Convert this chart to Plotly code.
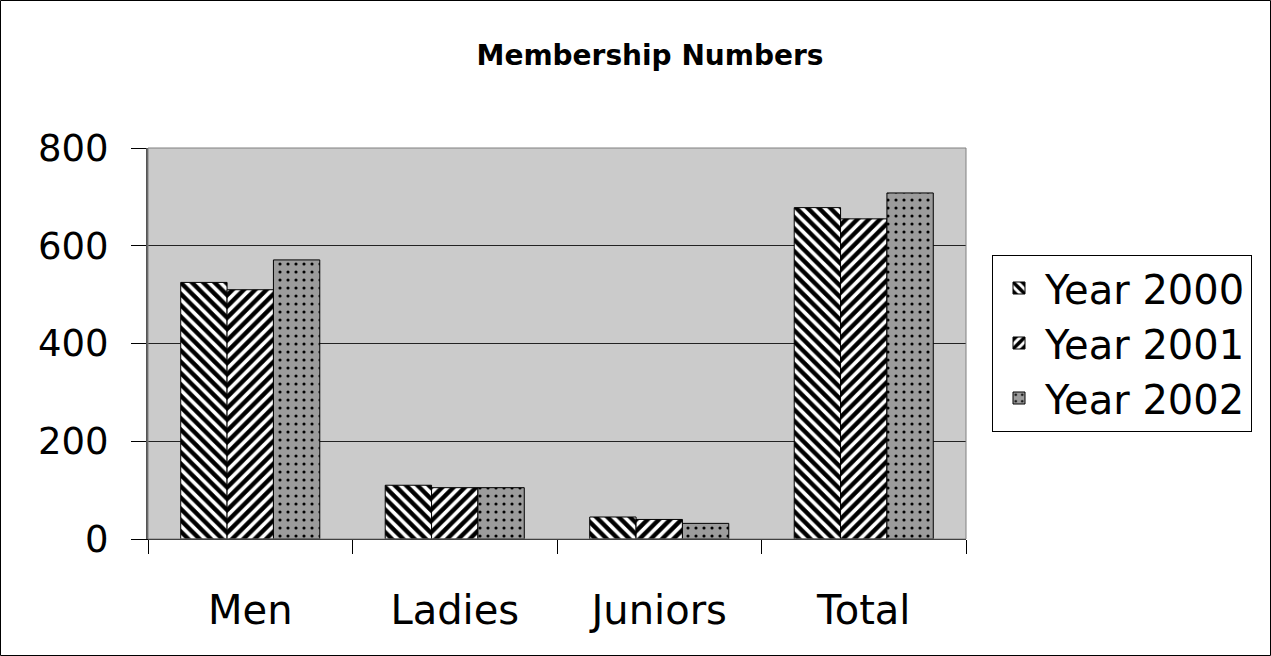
import plotly.graph_objects as go

categories = ["Men", "Ladies", "Juniors", "Total"]
series_names = ["Year 2000", "Year 2001", "Year 2002"]
year_2000 = [525, 110, 45, 678]
year_2001 = [510, 105, 40, 655]
year_2002 = [571, 105, 32, 708]
y_ticks = [0, 200, 400, 600, 800]

W, H = 1271, 656
ML, MR, MT, MB = 148, 305, 148, 117
pw, ph = W - ML - MR, H - MT - MB

patterns = [
    dict(shape="\\", fgcolor="black", bgcolor="white", size=8, solidity=0.55, fgopacity=1),
    dict(shape="/", fgcolor="black", bgcolor="white", size=8, solidity=0.55, fgopacity=1),
    dict(shape=".", fgcolor="black", bgcolor="#9c9c9c", size=8, solidity=0.12, fgopacity=1),
]

fig = go.Figure()
for name, vals, pat in zip(series_names, [year_2000, year_2001, year_2002], patterns):
    fig.add_trace(go.Bar(
        x=categories, y=vals, name=name,
        marker=dict(color="white", pattern=pat, line=dict(color="black", width=1)),
    ))

font = "DejaVu Sans, Liberation Sans, Arial, sans-serif"
fig.update_layout(
    width=W, height=H,
    margin=dict(l=ML, r=MR, t=MT, b=MB, autoexpand=False),
    paper_bgcolor="white", plot_bgcolor="#cbcbcb",
    barmode="group", bargap=0.32, bargroupgap=0,
    font=dict(family=font, color="black", size=38),
    title=dict(text="<b>Membership Numbers</b>", font=dict(size=28, family=font),
               x=650 / W, xref="container", xanchor="center", y=1 - 55 / H, yanchor="middle"),
    showlegend=True,
    legend=dict(x=(992 - ML) / pw, xanchor="left", y=(H - MB - 343) / ph, yanchor="middle",
                bordercolor="black", borderwidth=1, bgcolor="white",
                font=dict(size=40, family=font), itemwidth=42, tracegroupgap=0),
    xaxis=dict(tickson="boundaries", ticks="outside", ticklen=14, tickcolor="black",
               showline=True, linecolor="black", linewidth=1, mirror=False,
               tickfont=dict(size=40), ticklabelstandoff=36),
    yaxis=dict(range=[0, 800], tickvals=y_ticks, ticks="outside", ticklen=15,
               tickcolor="black", showline=True, linecolor="#555555", linewidth=2,
               showgrid=True, gridcolor="#222222", gridwidth=1, zeroline=False,
               tickfont=dict(size=37), ticklabelstandoff=15),
    shapes=[
        dict(type="rect", xref="paper", yref="paper", x0=0, x1=1, y0=0, y1=1,
             line=dict(color="#808080", width=1), fillcolor="rgba(0,0,0,0)", layer="above"),
        dict(type="rect", xref="paper", yref="paper",
             x0=(0.5 - ML) / pw, x1=(W - 0.5 - ML) / pw,
             y0=-(MB - 0.5) / ph, y1=(ph + MT - 0.5) / ph,
             line=dict(color="black", width=1), fillcolor="rgba(0,0,0,0)"),
    ],
)
fig.write_html("out.html", config={"displayModeBar": False},
               post_script="document.body.style.margin='0';")
